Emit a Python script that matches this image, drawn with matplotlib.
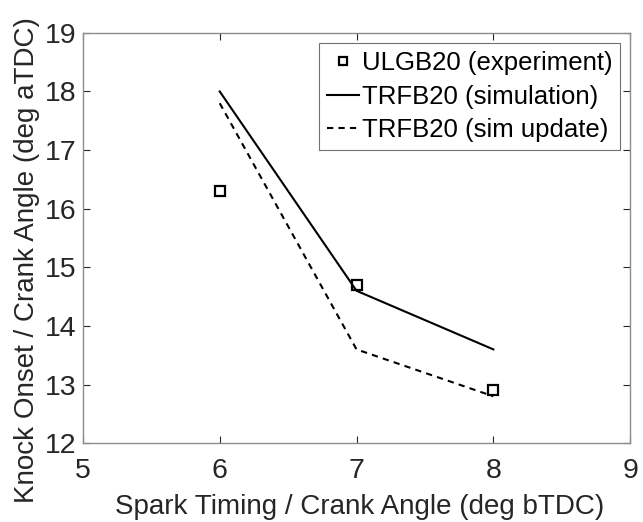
import matplotlib
matplotlib.use("Agg")
import matplotlib.pyplot as plt

plt.rcParams['font.family'] = ['Liberation Sans', 'DejaVu Sans']

spark = [6, 7, 8]
exp_vals = [16.3, 14.7, 12.9]
sim_vals = [18.0, 14.6, 13.6]
upd_vals = [17.8, 13.6, 12.8]
labels = ['ULGB20 (experiment)', 'TRFB20 (simulation)', 'TRFB20 (sim update)']

fig = plt.figure(figsize=(6.43, 5.22), dpi=100)
ax = fig.add_axes([0.129, 0.151, 0.851, 0.786])

ax.plot(spark, exp_vals, linestyle='none', marker='s', markersize=7.5,
        markerfacecolor='none', markeredgecolor='black', markeredgewidth=1.6, label=labels[0])
ax.plot(spark, sim_vals, color='black', linewidth=1.5, label=labels[1])
ax.plot(spark, upd_vals, color='black', linewidth=1.5, linestyle=(0, (3, 2.5)), label=labels[2])

ax.set_xlim(5, 9)
ax.set_ylim(12, 19)
ax.set_xticks([5, 6, 7, 8, 9])
ax.set_yticks(range(12, 20))
ax.tick_params(direction='in', top=True, right=True, labelsize=20.5, length=5,
               color='#262626', labelcolor='#262626')
ax.tick_params(axis='x', pad=11)
ax.tick_params(axis='y', pad=5)
for s in ax.spines.values():
    s.set_color('#8c8c8c')
    s.set_linewidth(1.0)
ax.set_xlabel('Spark Timing / Crank Angle (deg bTDC)', fontsize=20, color='#262626')
ax.set_ylabel('Knock Onset / Crank Angle (deg aTDC)', fontsize=20, color='#262626')
ax.xaxis.set_label_coords(0.506, -0.125)
ax.yaxis.set_label_coords(-0.078, 0.446)

leg = ax.legend(loc='upper right', fontsize=18.5, frameon=True, fancybox=False,
                edgecolor='#4d4d4d', handlelength=1.25, handletextpad=0.1,
                borderpad=0.3, labelspacing=0.38, borderaxespad=0.4, markerscale=0.75)
leg.get_frame().set_linewidth(0.8)

fig.savefig('out.png', dpi=100)
